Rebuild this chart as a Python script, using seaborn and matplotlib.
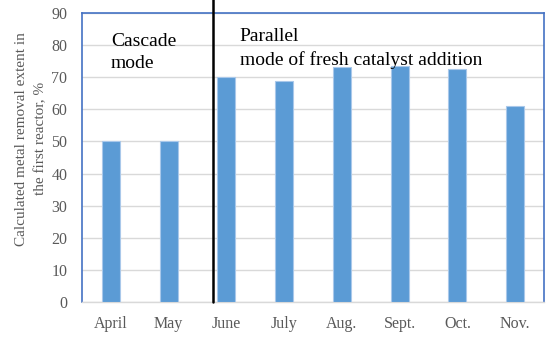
import matplotlib
matplotlib.use("Agg")
import matplotlib.pyplot as plt
import seaborn as sns
import pandas as pd

months = ["April", "May", "June", "July", "Aug.", "Sept.", "Oct.", "Nov."]
values = [50, 50, 70, 68.7, 73.2, 73.6, 72.5, 61.1]
y_ticks = [0, 10, 20, 30, 40, 50, 60, 70, 80, 90]
mode_labels = ["Cascade\nmode", "Parallel\nmode of fresh catalyst addition"]

sns.set_theme(style="white")
plt.rcParams['font.family'] = ['Liberation Serif', 'DejaVu Serif']

df = pd.DataFrame({"month": months, "value": values})

fig = plt.figure(figsize=(5.5, 3.37), dpi=100)
ax = fig.add_axes([82/550, 1-302/337, (544-82)/550, (302-13)/337])

sns.barplot(data=df, x="month", y="value", color="#5b9bd5", saturation=1,
            width=0.31, edgecolor="#a9c8ea", linewidth=0.8, ax=ax, zorder=3)

ax.set_ylim(0, 90)
ax.set_yticks(y_ticks)
ax.set_xlim(-0.5, len(months) - 0.5)
ax.yaxis.grid(True, color="#d9d9d9", linewidth=1, zorder=0)
ax.set_axisbelow(True)
ax.tick_params(axis="both", length=0, labelsize=11.5, colors="#595959")
ax.tick_params(axis="x", pad=10)
ax.tick_params(axis="y", pad=10.5)
ax.set_xlabel("")
ax.set_ylabel("Calculated metal removal extent in\nthe first reactor, %", fontsize=11,
              color="#595959", linespacing=1.55)
ax.yaxis.set_label_coords(-0.076, 0.565)

for side in ["left", "top", "right"]:
    ax.spines[side].set_color("#4472c4")
    ax.spines[side].set_linewidth(1.2)
ax.spines["bottom"].set_color("#d9d9d9")
ax.spines["bottom"].set_linewidth(1)

# separator line between modes
ax.plot([1.77, 1.77], [0, 94.5], color="black", linewidth=1.8, clip_on=False, zorder=5)

ax.text(0.0, 77.8, mode_labels[0], fontsize=14, color="black", ha="left", va="center",
        linespacing=1.4, zorder=6)
ax.text(2.23, 79, mode_labels[1], fontsize=14, color="black", ha="left", va="center",
        linespacing=1.4, zorder=6)

fig.savefig("out.png", dpi=100)
